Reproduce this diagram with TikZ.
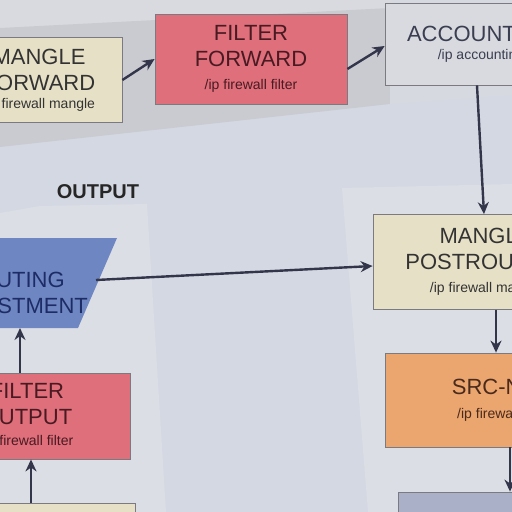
\documentclass[tikz,border=0pt]{standalone}
\usepackage{fontspec}
\setmainfont{Liberation Sans}
\usetikzlibrary{arrows.meta}
\definecolor{bgc}{HTML}{D4D8E2}
\definecolor{bandc}{HTML}{CACBD1}
\definecolor{topc}{HTML}{D9DADF}
\definecolor{panelc}{HTML}{DCDEE5}
\definecolor{creamc}{HTML}{E6E1C6}
\definecolor{redc}{HTML}{DE6F7B}
\definecolor{grayboxc}{HTML}{D9DADF}
\definecolor{orangec}{HTML}{EBA56E}
\definecolor{bluec}{HTML}{6E86C2}
\definecolor{bluetxt}{HTML}{1E2C66}
\definecolor{arrc}{HTML}{33354A}
\definecolor{edgec}{HTML}{7A7A80}
\definecolor{botc}{HTML}{A9B0C7}
\definecolor{acctxt}{HTML}{3A3E50}
\definecolor{redtxt}{HTML}{4A1A22}
\definecolor{oratxt}{HTML}{4A2A1C}
\newcommand{\subl}[1]{{\fontsize{14}{16}\selectfont #1}}
\tikzset{
  chainbox/.style={draw=edgec, line width=0.8pt, rectangle, inner sep=0pt, align=center,
    font=\fontsize{22}{26}\selectfont},
  arr/.style={draw=arrc, line width=2.4pt, -{Stealth[length=12pt,width=11pt]}},
}
\begin{document}
\begin{tikzpicture}[x=1pt,y=-1pt]
\useasboundingbox (0,0) rectangle (512,512);
\clip (0,0) rectangle (512,512);
\fill[bgc] (0,0) rectangle (512,512);
\fill[topc] (0,0) rectangle (512,30);
\fill[bandc] (0,28) -- (390,8) -- (390,104) -- (0,147) -- cycle;
\fill[grayboxc!60!bgc] (390,0) -- (512,0) -- (512,95) -- (390,104) -- cycle;
% panels
\fill[panelc] (0,213) -- (40,206) -- (147,204) -- (166,512) -- (0,512) -- cycle;
\fill[panelc] (342,188) -- (512,184) -- (512,512) -- (368,512) -- cycle;
\node[font=\bfseries\fontsize{20}{22}\selectfont, text=black!85] (outlbl) at (98,192) {OUTPUT};

% FORWARD chain
\node[chainbox, fill=creamc, minimum width=166pt, minimum height=85pt, text=black!80] (mf) at (39,80)
  {MANGLE\\FORWARD\\[-8pt]\subl{/ip firewall mangle}};
\node[chainbox, fill=redc, minimum width=192pt, minimum height=90pt, text=redtxt] (ff) at (251,59)
  {FILTER\\FORWARD\\[-3pt]\subl{/ip firewall filter}};
\node[chainbox, fill=grayboxc, minimum width=192pt, minimum height=82pt, text=acctxt] (acc) at (481,44)
  {ACCOUNTING\\[-8pt]\subl{/ip accounting}};

% POSTROUTING
\node[chainbox, fill=creamc, minimum width=226pt, minimum height=95pt, text=black!80] (mp) at (486,262)
  {MANGLE\\POSTROUTING\\[-3pt]\subl{/ip firewall mangle}};
\node[chainbox, fill=orangec, minimum width=230pt, minimum height=94pt, text=oratxt] (sn) at (500,400)
  {SRC-NAT\\[-2pt]\subl{/ip firewall nat}};
\node[chainbox, fill=botc, minimum width=200pt, minimum height=60pt] (bx) at (498,522) {};

% OUTPUT
\fill[bluec] (-120,238) -- (117,238) -- (78,328) -- (-120,328) -- cycle;
\node[align=center, text=bluetxt, font=\fontsize{22}{26}\selectfont] (ra) at (14,293) {ROUTING\\ADJUSTMENT};
\coordinate (raR) at (96,280);
\coordinate (raB) at (20,328);
\node[chainbox, fill=redc, minimum width=206pt, minimum height=86pt, text=redtxt] (fo) at (27,416)
  {FILTER\\OUTPUT\\[-5pt]\subl{/ip firewall filter}};
\node[chainbox, fill=creamc, minimum width=220pt, minimum height=60pt] (bl) at (25,533) {};

% connectors
\draw[arr] (mf.east) -- (ff.west);
\draw[arr] ([yshift=-10pt]ff.east) -- ([yshift=-2pt]acc.west);
\draw[arr] ([xshift=-4pt]acc.south) -- ([xshift=-2pt]mp.north);
\draw[arr] (raR) -- ([yshift=-4pt]mp.west);
\draw[arr] ([xshift=10pt]mp.south) -- ([xshift=-4pt]sn.north);
\draw[arr] ([xshift=10pt]sn.south) -- ([xshift=12pt]bx.north);
\draw[arr] ([xshift=-7pt]fo.north) -- (raB);
\draw[arr] ([xshift=6pt]bl.north) -- ([xshift=4pt]fo.south);
\end{tikzpicture}
\end{document}
